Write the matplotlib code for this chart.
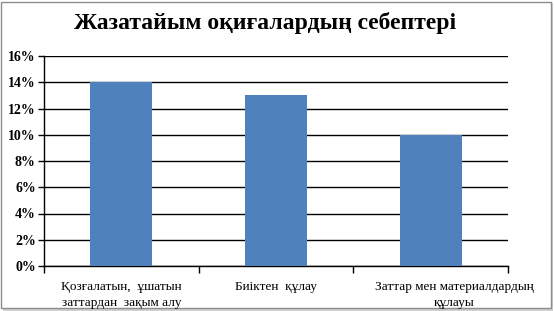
import matplotlib.pyplot as plt
import matplotlib.transforms as mtransforms
from matplotlib.patches import Rectangle

categories = ['Қозғалатын,  ұшатын\nзаттардан  зақым алу', 'Биіктен  құлау',
              'Заттар мен материалдардың\nқұлауы']
values = [14, 13, 10]
yticks = [0, 2, 4, 6, 8, 10, 12, 14, 16]

plt.rcParams['font.family'] = ['Liberation Serif', 'DejaVu Serif']

fig = plt.figure(figsize=(5.54, 3.11), dpi=100)

# chart border with a small shadow
fig.patches.append(Rectangle((3 / 554, 0), 550 / 554, 308 / 311, transform=fig.transFigure,
                             facecolor='#d0d0d0', edgecolor='none', zorder=-2))
fig.patches.append(Rectangle((1 / 554, 3 / 311), 550 / 554, 306 / 311, transform=fig.transFigure,
                             facecolor='white', edgecolor='#8c8c8c', linewidth=1, zorder=-1))

ax = fig.add_axes([44 / 554, 45 / 311, 464 / 554, 210 / 311])
ax.set_zorder(1)
ax.set_facecolor('none')

x = range(len(categories))
ax.bar(x, values, width=0.4, color='#4F81BD', zorder=3)

ax.set_xlim(-0.5, len(categories) - 0.5)
ax.set_ylim(0, 16)
ax.set_yticks(yticks)
ax.set_yticklabels([f'{v}%' for v in yticks], fontsize=10, fontweight='bold')
ax.yaxis.grid(True, color='black', linewidth=1, zorder=0)
ax.set_axisbelow(True)

ax.set_xticks([i for i in x])
ax.set_xticklabels(categories, fontsize=9.5, linespacing=1.45)
ax.tick_params(axis='x', length=0, pad=11)
ax.set_xticks([-0.5, 0.5, 1.5, 2.5], minor=True)
ax.tick_params(axis='x', which='minor', length=5, direction='out', width=1)
ax.tick_params(axis='y', length=4, direction='out', width=1, pad=2)

# the last label sits a bit to the right in the original
lbl = ax.get_xticklabels()[2]
lbl.set_transform(lbl.get_transform() + mtransforms.ScaledTranslation(24 / 100, 0, fig.dpi_scale_trans))

for s in ['top', 'right']:
    ax.spines[s].set_visible(False)
for s in ['left', 'bottom']:
    ax.spines[s].set_color('black')
    ax.spines[s].set_linewidth(1)

fig.text(265 / 554, 288 / 311, 'Жазатайым оқиғалардың себептері', ha='center', va='center',
         fontsize=17, fontweight='bold')

fig.savefig('out.png', dpi=100)
